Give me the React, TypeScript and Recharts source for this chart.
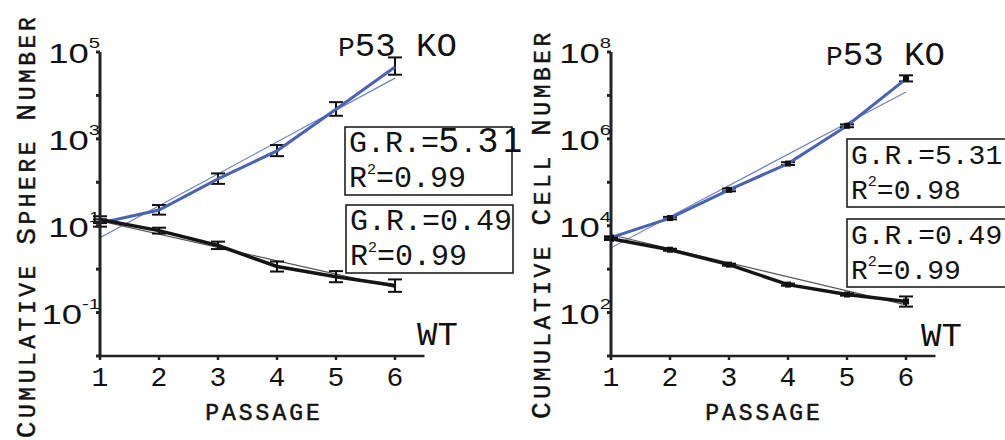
import React from "react";
import { LineChart, Line, XAxis, YAxis, ErrorBar } from "recharts";

// passage numbers shared by both panels
const passages = [1, 2, 3, 4, 5, 6];

// left panel: cumulative sphere number
const sphereKO = [11.5, 23, 120, 530, 4800, 45000];
const sphereKOLow = [9.5, 18, 92, 400, 3400, 30000];
const sphereKOHigh = [14, 30, 160, 720, 7000, 75000];
const sphereWT = [14, 7.7, 3.5, 1.15, 0.67, 0.42];
const sphereWTLow = [11.5, 6.6, 2.9, 0.88, 0.5, 0.3];
const sphereWTHigh = [16.5, 9, 4.3, 1.5, 0.9, 0.58];
const sphereKOFit = [5.3, 25000];
const sphereWTFit = [13, 0.38];

// right panel: cumulative cell number
const cellKO = [5300, 15000, 67000, 270000, 2.0e6, 2.4e7];
const cellKOLow = [4900, 14000, 62000, 250000, 1.85e6, 2.1e7];
const cellKOHigh = [5700, 16000, 72000, 290000, 2.15e6, 2.9e7];
const cellWT = [5000, 2800, 1270, 440, 260, 180];
const cellWTLow = [4700, 2650, 1200, 415, 245, 137];
const cellWTHigh = [5300, 2950, 1340, 465, 275, 235];
const cellKOFit = [3100, 1.2e7];
const cellWTFit = [6200, 150];

const fitPassages = [1, 6];
const sphereTicks = [1e-2, 1e-1, 1, 10, 100, 1e3, 1e4, 1e5];
const sphereLabeled = [-1, 1, 3, 5];
const cellTicks = [10, 100, 1e3, 1e4, 1e5, 1e6, 1e7, 1e8];
const cellLabeled = [2, 4, 6, 8];

const BLUE = "#4a62b0";
const BLUE_FIT = "#6f84c8";
const BLACK = "#151515";
const MONO = "'Liberation Mono', 'DejaVu Sans Mono', monospace";
const SANS = "'Liberation Sans', Arial, sans-serif";

function buildRows(ko: number[], koLo: number[], koHi: number[], wt: number[], wtLo: number[], wtHi: number[]) {
  return passages.map((p, i) => ({
    passage: p,
    ko: ko[i],
    koErr: [ko[i] - koLo[i], koHi[i] - ko[i]],
    wt: wt[i],
    wtErr: [wt[i] - wtLo[i], wtHi[i] - wt[i]],
  }));
}

function buildFit(ko: number[], wt: number[]) {
  return fitPassages.map((p, i) => ({ passage: p, koFit: ko[i], wtFit: wt[i] }));
}

const YTick = (props: any) => {
  const { x, y, payload, labeled } = props;
  const e = Math.round(Math.log10(payload.value));
  if (!labeled.includes(e)) return null;
  return (
    <text transform={`translate(${x + 6},${y + 11}) scale(1.35,1)`} textAnchor="end" fontFamily={SANS} fontSize={27} fill="#111">
      <tspan>10</tspan>
      <tspan dy={-15} fontSize={15}>{e}</tspan>
    </text>
  );
};

const XTick = (props: any) => {
  const { x, y, payload } = props;
  return (
    <text x={x} y={y + 24} textAnchor="middle" fontFamily={MONO} fontSize={28} fill="#111">
      {payload.value}
    </text>
  );
};

const SquareDot = (props: any) => {
  const { cx, cy } = props;
  if (cx == null || cy == null) return null;
  return <rect x={cx - 3} y={cy - 3} width={6} height={6} fill="#111" />;
};

function Panel({ rows, fit, domain, ticks, labeled, squares }: any) {
  return (
    <LineChart width={480} height={440} data={rows} margin={{ top: 52, right: 55.5, bottom: 44, left: 40 }}>
      <XAxis
        dataKey="passage"
        type="number"
        domain={[1, 6.5]}
        ticks={passages}
        allowDataOverflow
        height={40}
        stroke="#222"
        strokeWidth={2.5}
        tickSize={4}
        tick={<XTick />}
      />
      <YAxis
        scale="log"
        domain={domain}
        ticks={ticks}
        allowDataOverflow
        width={60}
        stroke="#222"
        strokeWidth={3}
        tickSize={4}
        tick={<YTick labeled={labeled} />}
      />
      <Line data={fit} dataKey="koFit" stroke={BLUE_FIT} strokeWidth={1.2} dot={false} isAnimationActive={false} />
      <Line data={fit} dataKey="wtFit" stroke="#555" strokeWidth={1.2} dot={false} isAnimationActive={false} />
      <Line dataKey="ko" stroke={BLUE} strokeWidth={3} dot={squares ? <SquareDot /> : false} isAnimationActive={false}>
        <ErrorBar dataKey="koErr" width={7} strokeWidth={2} stroke="#111" direction="y" />
      </Line>
      <Line dataKey="wt" stroke={BLACK} strokeWidth={3.5} dot={squares ? <SquareDot /> : false} isAnimationActive={false}>
        <ErrorBar dataKey="wtErr" width={7} strokeWidth={2} stroke="#111" direction="y" />
      </Line>
    </LineChart>
  );
}

function SmallCaps({ text, big, small, spacing }: { text: string; big: number; small: number; spacing: number }) {
  return (
    <>
      {text.split("").map((ch, i) => {
        const isCap = ch !== " " && ch === ch.toUpperCase();
        return (
          <tspan key={i} fontSize={isCap ? big : small} letterSpacing={spacing}>
            {ch.toUpperCase()}
          </tspan>
        );
      })}
    </>
  );
}

function StatBox({ x, y, w, gr, r2, grSans, size }: any) {
  return (
    <g>
      <rect x={x} y={y} width={w} height={68} fill="white" stroke="#111" strokeWidth={1.5} />
      <text x={x + 4} y={y + 25} fontFamily={MONO} fontSize={size} fill="#111">
        G.R.=
        {grSans ? (
          <tspan fontFamily={SANS} fontSize={35} letterSpacing={5}>{gr}</tspan>
        ) : (
          <tspan>{gr}</tspan>
        )}
      </text>
      <text x={x + 4} y={y + 60} fontFamily={MONO} fontSize={size} fill="#111">
        R<tspan dy={-13} fontSize={15}>2</tspan>
        <tspan dy={13}>=</tspan>
        {r2}
      </text>
    </g>
  );
}

export default function App() {
  const sphereRows = buildRows(sphereKO, sphereKOLow, sphereKOHigh, sphereWT, sphereWTLow, sphereWTHigh);
  const cellRows = buildRows(cellKO, cellKOLow, cellKOHigh, cellWT, cellWTLow, cellWTHigh);

  return (
    <div style={{ position: "absolute", left: 0, top: 0, width: 1005, height: 440, background: "white", overflow: "hidden" }}>
      <div style={{ position: "absolute", left: 0, top: 0 }}>
        <Panel
          rows={sphereRows}
          fit={buildFit(sphereKOFit, sphereWTFit)}
          domain={[1e-2, 1e5]}
          ticks={sphereTicks}
          labeled={sphereLabeled}
          squares={false}
        />
      </div>
      <div style={{ position: "absolute", left: 511, top: 0 }}>
        <Panel
          rows={cellRows}
          fit={buildFit(cellKOFit, cellWTFit)}
          domain={[10, 1e8]}
          ticks={cellTicks}
          labeled={cellLabeled}
          squares
        />
      </div>
      <svg width={1005} height={440} style={{ position: "absolute", left: 0, top: 0, pointerEvents: "none" }}>
        {/* axis titles */}
        <text transform="translate(35,226) rotate(-90)" textAnchor="middle" fontFamily={MONO} fill="#111" stroke="#111" strokeWidth={0.4}>
          <SmallCaps text="Cumulative Sphere Number" big={28} small={23} spacing={3.5} />
        </text>
        <text transform="translate(550,224) rotate(-90)" textAnchor="middle" fontFamily={MONO} fill="#111" stroke="#111" strokeWidth={0.4}>
          <SmallCaps text="Cumulative Cell Number" big={28} small={23} spacing={3.5} />
        </text>
        <text x={264} y={420} textAnchor="middle" fontFamily={MONO} fontSize={23} letterSpacing={3} fill="#111" stroke="#111" strokeWidth={0.5}>PASSAGE</text>
        <text x={764} y={420} textAnchor="middle" fontFamily={MONO} fontSize={23} letterSpacing={3} fill="#111" stroke="#111" strokeWidth={0.5}>PASSAGE</text>

        {/* group labels */}
        <text x={338} y={56} fontFamily={MONO} fontSize={34} fill="#111">
          <tspan fontSize={28}>P</tspan>53 KO
        </text>
        <text x={826} y={65} fontFamily={MONO} fontSize={34} fill="#111">
          <tspan fontSize={28}>P</tspan>53 KO
        </text>
        <text x={417} y={345} fontFamily={MONO} fontSize={34} fill="#111">WT</text>
        <text x={921} y={346} fontFamily={MONO} fontSize={34} fill="#111">WT</text>

        {/* growth-rate boxes */}
        <StatBox x={345} y={127} w={167} gr="5.31" r2="0.99" grSans size={30} />
        <StatBox x={346} y={205} w={167} gr="0.49" r2="0.99" size={30} />
        <StatBox x={847} y={139} w={170} gr="5.31" r2="0.98" size={28} />
        <StatBox x={847} y={219} w={170} gr="0.49" r2="0.99" size={28} />
      </svg>
    </div>
  );
}
